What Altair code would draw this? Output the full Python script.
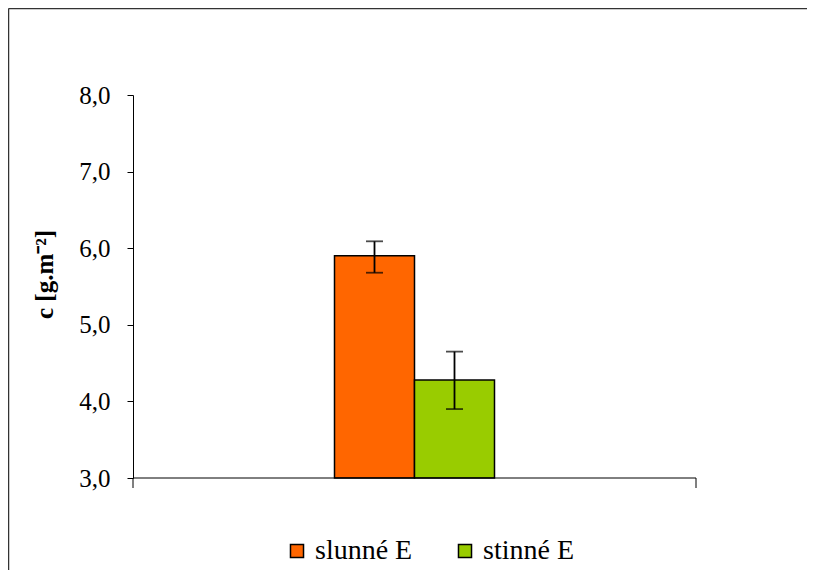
import altair as alt
import pandas as pd

series = ["slunné E", "stinné E"]
group = ["E", "E"]
means = [5.90, 4.28]
err_low = [5.68, 3.90]
err_high = [6.09, 4.65]
colors = ["#FF6600", "#99CC00"]
y_ticks = [3, 4, 5, 6, 7, 8]

df = pd.DataFrame({"group": group, "series": series, "mean": means,
                   "lo": err_low, "hi": err_high})

FONT = "Liberation Serif"

x_enc = alt.X("group:N", axis=None,
              scale=alt.Scale(paddingInner=0.206, paddingOuter=1))
xo = alt.XOffset("series:N", scale=alt.Scale(domain=series, paddingInner=0, paddingOuter=0))
y_scale = alt.Scale(domain=[3, 8], nice=False, zero=False)

base = alt.Chart(df)

bars = base.mark_bar(stroke="black", strokeWidth=1.5).encode(
    x=x_enc,
    xOffset=xo,
    y=alt.Y("mean:Q", scale=y_scale,
            axis=alt.Axis(values=y_ticks, title="c [g.m⁻²]", grid=False,
                          labelExpr="replace(format(datum.value, '.1f'), '.', ',')",
                          labelFont=FONT, labelFontSize=25, labelColor="black",
                          titleFont=FONT, titleFontSize=25, titleFontWeight="bold",
                          titleColor="black", titlePadding=21, titleY=179,
                          tickSize=6, tickColor="black", domainColor="black",
                          labelPadding=17)),
    y2=alt.datum(3),
    color=alt.Color("series:N", scale=alt.Scale(domain=series, range=colors),
                    legend=alt.Legend(title=None, orient="none", legendX=150, legendY=442,
                                      direction="horizontal", symbolType="square",
                                      symbolSize=170, symbolStrokeColor="black",
                                      symbolStrokeWidth=1.5, labelFont=FONT,
                                      labelFontSize=28, labelColor="black",
                                      columnPadding=38, labelOffset=4)),
)

err = base.mark_rule(color="black", strokeWidth=1.8).encode(
    x=x_enc, xOffset=xo, y=alt.Y("lo:Q", scale=y_scale), y2="hi:Q")
cap_lo = base.mark_tick(color="black", thickness=1.8, size=17).encode(
    x=x_enc, xOffset=xo, y=alt.Y("lo:Q", scale=y_scale))
cap_hi = base.mark_tick(color="black", thickness=1.8, size=17).encode(
    x=x_enc, xOffset=xo, y=alt.Y("hi:Q", scale=y_scale))

# x axis baseline and end ticks
frame_df = pd.DataFrame({"k": [0]})
fb = alt.Chart(frame_df)
x_base = fb.mark_rule(color="black", strokeWidth=1).encode(
    x=alt.value(0), x2=alt.value(563), y=alt.value(383))
tick_r = fb.mark_rule(color="black", strokeWidth=1).encode(
    x=alt.value(563), y=alt.value(383), y2=alt.value(393))
tick_l = fb.mark_rule(color="black", strokeWidth=1).encode(
    x=alt.value(0), y=alt.value(383), y2=alt.value(393))
# outer chart frame
frame_top = fb.mark_rule(color="#333333", strokeWidth=1.5).encode(
    x=alt.value(-124.5), x2=alt.value(700), y=alt.value(-86.5))
frame_left = fb.mark_rule(color="#333333", strokeWidth=1.5).encode(
    x=alt.value(-124.5), y=alt.value(-86.5), y2=alt.value(500))

chart = alt.layer(bars, err, cap_lo, cap_hi, x_base, tick_r, tick_l,
                  frame_top, frame_left).properties(
    width=563, height=383,
    autosize=alt.AutoSizeParams(type="none"),
    padding={"left": 125, "top": 87, "right": 111, "bottom": 92},
    background="white",
).configure(font=FONT, view=alt.ViewConfig(strokeWidth=0, stroke="transparent"))

chart.save("out.html", embed_options={"renderer": "svg", "actions": False})
